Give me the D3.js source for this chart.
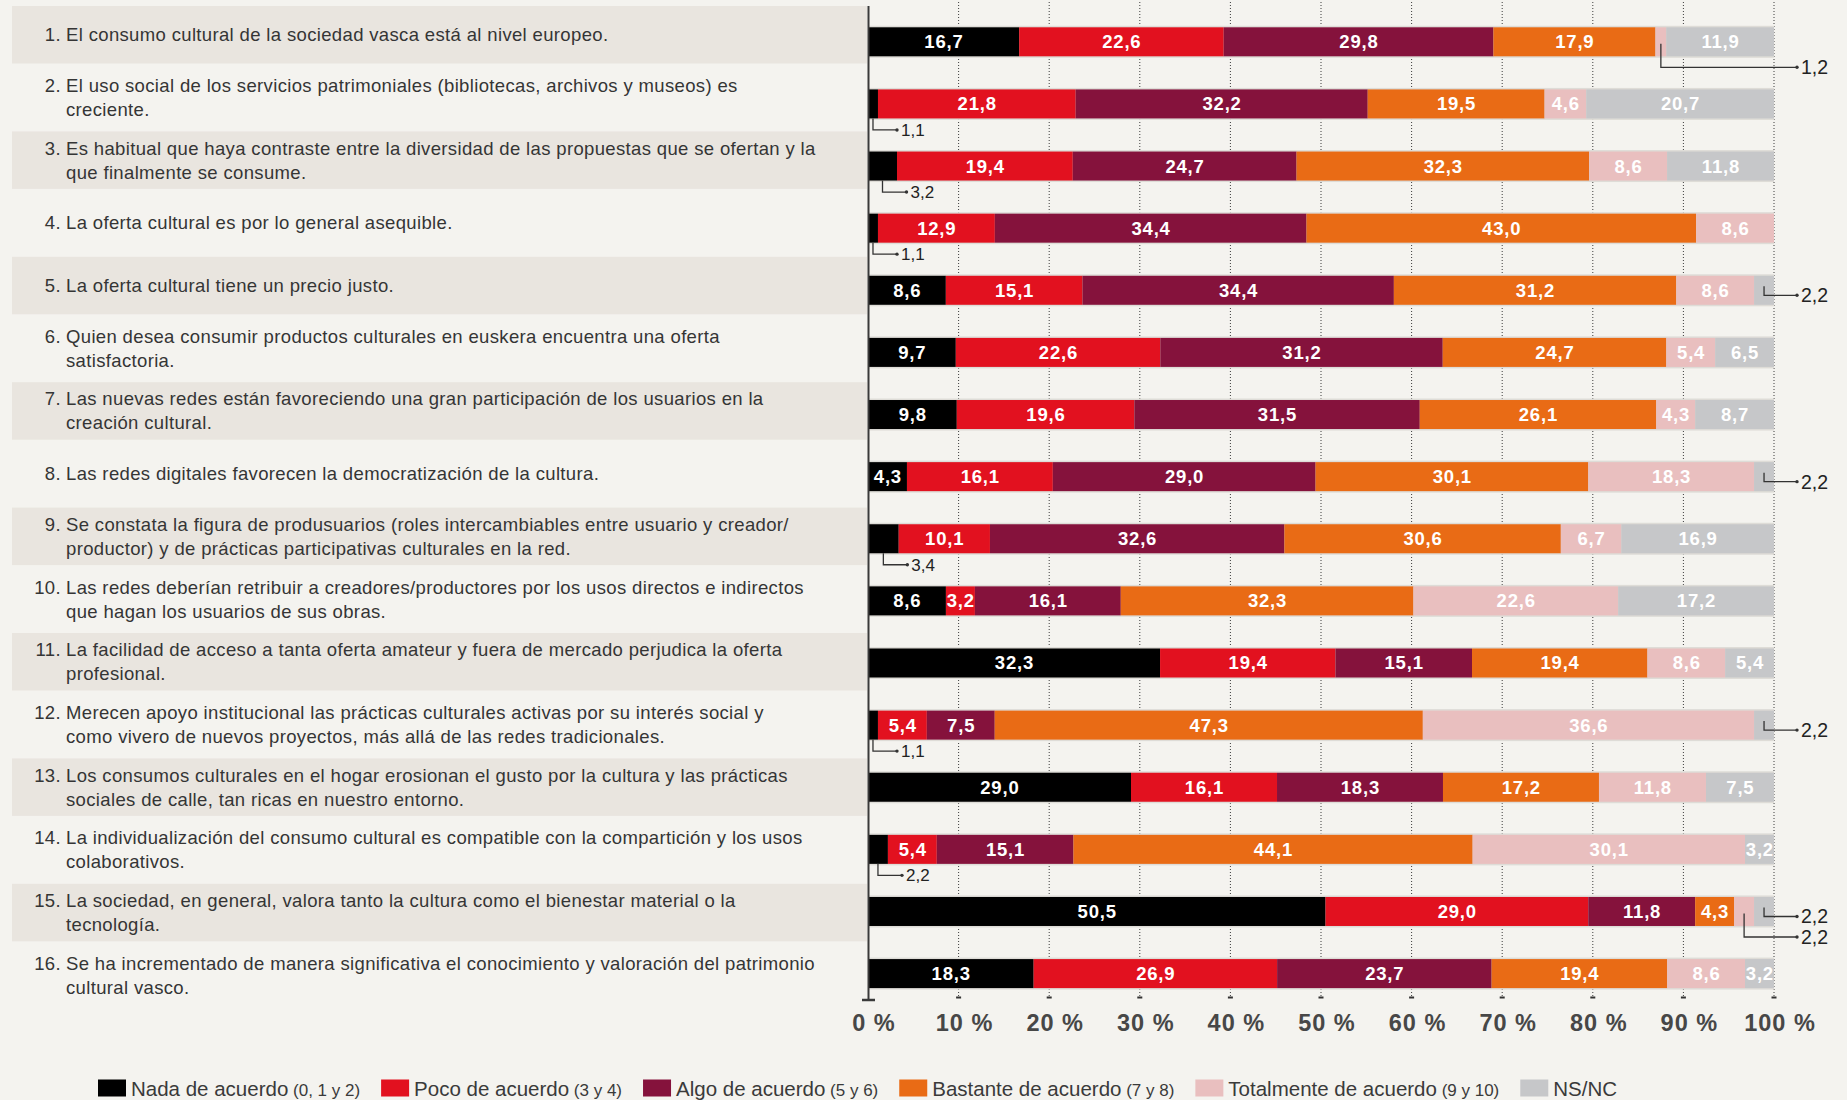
<!DOCTYPE html>
<html lang="es">
<head>
<meta charset="utf-8">
<title>Consumo cultural</title>
<script src="https://cdn.jsdelivr.net/npm/d3@7"></script>
<style>
  html, body { margin: 0; padding: 0; background: #f4f3ef; }
  svg { display: block; font-family: "Liberation Sans", Arial, Helvetica, sans-serif; }
</style>
</head>
<body>
<div id="chart"></div>
<script>
// ---- data -----------------------------------------------------------------
var keys = ['nada', 'poco', 'algo', 'bastante', 'totalmente', 'nsnc'];
var categories = ['Nada de acuerdo', 'Poco de acuerdo', 'Algo de acuerdo', 'Bastante de acuerdo', 'Totalmente de acuerdo', 'NS/NC'];
var categoryNotes = ['(0, 1 y 2)', '(3 y 4)', '(5 y 6)', '(7 y 8)', '(9 y 10)', ''];
var colors = ['#000000', '#e2111f', '#85123c', '#e96b15', '#e9bfbf', '#c6c7c9'];

var questions = [
    ['El consumo cultural de la sociedad vasca está al nivel europeo.'],
    ['El uso social de los servicios patrimoniales (bibliotecas, archivos y museos) es', 'creciente.'],
    ['Es habitual que haya contraste entre la diversidad de las propuestas que se ofertan y la', 'que finalmente se consume.'],
    ['La oferta cultural es por lo general asequible.'],
    ['La oferta cultural tiene un precio justo.'],
    ['Quien desea consumir productos culturales en euskera encuentra una oferta', 'satisfactoria.'],
    ['Las nuevas redes están favoreciendo una gran participación de los usuarios en la', 'creación cultural.'],
    ['Las redes digitales favorecen la democratización de la cultura.'],
    ['Se constata la figura de produsuarios (roles intercambiables entre usuario y creador/', 'productor) y de prácticas participativas culturales en la red.'],
    ['Las redes deberían retribuir a creadores/productores por los usos directos e indirectos', 'que hagan los usuarios de sus obras.'],
    ['La facilidad de acceso a tanta oferta amateur y fuera de mercado perjudica la oferta', 'profesional.'],
    ['Merecen apoyo institucional las prácticas culturales activas por su interés social y', 'como vivero de nuevos proyectos, más allá de las redes tradicionales.'],
    ['Los consumos culturales en el hogar erosionan el gusto por la cultura y las prácticas', 'sociales de calle, tan ricas en nuestro entorno.'],
    ['La individualización del consumo cultural es compatible con la compartición y los usos', 'colaborativos.'],
    ['La sociedad, en general, valora tanto la cultura como el bienestar material o la', 'tecnología.'],
    ['Se ha incrementado de manera significativa el conocimiento y valoración del patrimonio', 'cultural vasco.']
];

var nada       = [16.7,  1.1,  3.2,  1.1,  8.6,  9.7,  9.8,  4.3,  3.4,  8.6, 32.3,  1.1, 29.0,  2.2, 50.5, 18.3];
var poco       = [22.6, 21.8, 19.4, 12.9, 15.1, 22.6, 19.6, 16.1, 10.1,  3.2, 19.4,  5.4, 16.1,  5.4, 29.0, 26.9];
var algo       = [29.8, 32.2, 24.7, 34.4, 34.4, 31.2, 31.5, 29.0, 32.6, 16.1, 15.1,  7.5, 18.3, 15.1, 11.8, 23.7];
var bastante   = [17.9, 19.5, 32.3, 43.0, 31.2, 24.7, 26.1, 30.1, 30.6, 32.3, 19.4, 47.3, 17.2, 44.1,  4.3, 19.4];
var totalmente = [ 1.2,  4.6,  8.6,  8.6,  8.6,  5.4,  4.3, 18.3,  6.7, 22.6,  8.6, 36.6, 11.8, 30.1,  2.2,  8.6];
var nsnc       = [11.9, 20.7, 11.8,  0.0,  2.2,  6.5,  8.7,  2.2, 16.9, 17.2,  5.4,  2.2,  7.5,  3.2,  2.2,  3.2];

// small segments whose value sits outside the bar, with a leader line
var callouts = [
    { q: 1,  key: 'totalmente', kind: 'rightBelow' },
    { q: 2,  key: 'nada',       kind: 'below' },
    { q: 3,  key: 'nada',       kind: 'below' },
    { q: 4,  key: 'nada',       kind: 'below' },
    { q: 5,  key: 'nsnc',       kind: 'right' },
    { q: 8,  key: 'nsnc',       kind: 'right' },
    { q: 9,  key: 'nada',       kind: 'below' },
    { q: 12, key: 'nada',       kind: 'below' },
    { q: 12, key: 'nsnc',       kind: 'right' },
    { q: 14, key: 'nada',       kind: 'below' },
    { q: 15, key: 'nsnc',       kind: 'right' },
    { q: 15, key: 'totalmente', kind: 'rightBelow' }
];

var xTicks = [0, 10, 20, 30, 40, 50, 60, 70, 80, 90, 100];

// ---- chart ----------------------------------------------------------------
(function () {
    'use strict';

    var width = 1847, height = 1100;
    var series = { nada: nada, poco: poco, algo: algo, bastante: bastante, totalmente: totalmente, nsnc: nsnc };

    var rows = questions.map(function (lines, i) {
        var r = { id: i + 1, lines: lines };
        keys.forEach(function (k) { r[k] = series[k][i]; });
        return r;
    });
    var ids = rows.map(function (r) { return r.id; });

    var es = d3.formatLocale({ decimal: ',', thousands: '.', grouping: [3], currency: ['', ' €'] });
    var fmt = es.format('.1f');

    var x = d3.scaleLinear().domain([0, 1]).range([868, 1774]);
    var yBand = d3.scaleBand().domain(ids).range([6, 1004]).paddingInner(0.083);
    var yBar = d3.scaleBand().domain(ids).range([27.3, 988.1]).paddingInner(0.533);
    var color = d3.scaleOrdinal().domain(keys).range(colors);

    var stacked = d3.stack().keys(keys).offset(d3.stackOffsetExpand)(rows);

    var svg = d3.select('#chart').append('svg')
        .attr('width', width)
        .attr('height', height)
        .attr('viewBox', [0, 0, width, height]);

    svg.append('rect').attr('width', width).attr('height', height).attr('fill', '#f4f3ef');

    // label bands on odd rows
    svg.append('g').selectAll('rect')
        .data(rows.filter(function (r) { return r.id % 2 === 1; }))
        .join('rect')
        .attr('x', 12)
        .attr('width', 855)
        .attr('y', function (r) { return yBand(r.id); })
        .attr('height', yBand.bandwidth())
        .attr('fill', '#e9e5df');

    // question labels
    var lab = svg.append('g')
        .attr('fill', '#353535')
        .attr('font-size', 18.5)
        .attr('letter-spacing', 0.35)
        .selectAll('g').data(rows).join('g')
        .attr('transform', function (r) {
            var c = yBand(r.id) + yBand.bandwidth() / 2;
            var base = r.lines.length === 1 ? c + 6.5 : c - 5.5;
            return 'translate(0,' + base + ')';
        });
    lab.append('text')
        .attr('x', 61)
        .attr('text-anchor', 'end')
        .text(function (r) { return r.id + '.'; });
    lab.append('text')
        .attr('x', 66)
        .selectAll('tspan').data(function (r) { return r.lines; }).join('tspan')
        .attr('x', 66)
        .attr('dy', function (d, i) { return i === 0 ? 0 : 24; })
        .text(function (d) { return d; });

    // dotted grid
    var grid = svg.append('g');
    grid.selectAll('line').data(xTicks.slice(1)).join('line')
        .attr('x1', function (t) { return x(t / 100); })
        .attr('x2', function (t) { return x(t / 100); })
        .attr('y1', 2).attr('y2', 997)
        .attr('stroke', '#3c3c3c')
        .attr('stroke-width', 1)
        .attr('stroke-dasharray', '1,2');
    grid.selectAll('rect').data(xTicks.slice(1)).join('rect')
        .attr('x', function (t) { return x(t / 100) - 2.5; })
        .attr('y', 996.5).attr('width', 5).attr('height', 2)
        .attr('fill', '#333');

    // bar shadows
    svg.append('g').selectAll('rect').data(rows).join('rect')
        .attr('x', x(0))
        .attr('width', x(1) - x(0))
        .attr('y', function (r) { return yBar(r.id) - 1.5; })
        .attr('height', yBar.bandwidth() + 3)
        .attr('fill', '#dedcd7');

    // stacked segments
    var layer = svg.append('g').selectAll('g').data(stacked).join('g')
        .attr('fill', function (s) { return color(s.key); });
    layer.selectAll('rect').data(function (s) { return s; }).join('rect')
        .attr('x', function (d) { return x(d[0]); })
        .attr('width', function (d) { return Math.max(0, x(d[1]) - x(d[0])); })
        .attr('y', function (d) { return yBar(d.data.id); })
        .attr('height', yBar.bandwidth());

    // value labels inside bars
    var outside = {};
    callouts.forEach(function (c) { outside[c.q + '-' + c.key] = true; });
    var vals = svg.append('g')
        .attr('fill', '#fff')
        .attr('font-size', 18.5)
        .attr('font-weight', 'bold')
        .attr('letter-spacing', 0.8)
        .attr('text-anchor', 'middle');
    stacked.forEach(function (s) {
        vals.selectAll(null)
            .data(s.filter(function (d) {
                return d.data[s.key] > 0 && !outside[d.data.id + '-' + s.key];
            }))
            .join('text')
            .attr('x', function (d) { return (x(d[0]) + x(d[1])) / 2 + 0.4; })
            .attr('y', function (d) { return yBar(d.data.id) + yBar.bandwidth() / 2 + 6.5; })
            .text(function (d) { return fmt(d.data[s.key]); });
    });

    // leader lines for small values
    var byKey = {};
    stacked.forEach(function (s) { byKey[s.key] = s; });
    var lead = svg.append('g');
    callouts.forEach(function (c) {
        var d = byKey[c.key][c.q - 1];
        var mx = (x(d[0]) + x(d[1])) / 2;
        var top = yBar(c.q), bw = yBar.bandwidth();
        var mid = top + bw / 2, bot = top + bw;
        var y1, y2, x2, fs;
        if (c.kind === 'below') {
            y1 = bot; y2 = bot + 11.5; x2 = mx + 24; fs = 17;
        } else if (c.kind === 'right') {
            y1 = mid - 4; y2 = mid + 5; x2 = 1797; fs = 19.5;
        } else {
            y1 = mid + 2; y2 = bot + 11; x2 = 1797; fs = 19.5;
        }
        lead.append('path')
            .attr('d', 'M' + mx + ',' + y1 + 'V' + y2 + 'H' + x2)
            .attr('fill', 'none')
            .attr('stroke', '#333')
            .attr('stroke-width', 1.3);
        lead.append('circle')
            .attr('cx', x2).attr('cy', y2).attr('r', 1.7)
            .attr('fill', '#333');
        lead.append('text')
            .attr('x', x2 + 4)
            .attr('y', y2 + fs * 0.36)
            .attr('font-size', fs)
            .attr('fill', '#222')
            .text(fmt(d.data[c.key]));
    });

    // vertical axis line with foot
    svg.append('line')
        .attr('x1', 868.5).attr('x2', 868.5)
        .attr('y1', 6).attr('y2', 1000)
        .attr('stroke', '#3a3a3a').attr('stroke-width', 2);
    svg.append('line')
        .attr('x1', 862).attr('x2', 875)
        .attr('y1', 1000).attr('y2', 1000)
        .attr('stroke', '#3a3a3a').attr('stroke-width', 2.5);

    // tick labels
    svg.append('g')
        .attr('font-size', 23.5)
        .attr('font-weight', 'bold')
        .attr('letter-spacing', 1)
        .attr('fill', '#474747')
        .attr('text-anchor', 'middle')
        .selectAll('text').data(xTicks).join('text')
        .attr('x', function (t) { return x(t / 100) + 6; })
        .attr('y', 1030.5)
        .text(function (t) { return t + ' %'; });

    // legend
    var legend = svg.append('g').attr('fill', '#3a3a3a');
    var lx = 98;
    categories.forEach(function (name, i) {
        var item = legend.append('g').attr('transform', 'translate(' + lx + ',0)');
        item.append('rect')
            .attr('x', 0).attr('y', 1079.5)
            .attr('width', 28).attr('height', 17)
            .attr('fill', colors[i]);
        var t = item.append('text').attr('x', 33).attr('y', 1096).attr('font-size', 20.5);
        t.append('tspan').text(name);
        if (categoryNotes[i]) {
            t.append('tspan').attr('font-size', 17).text(' ' + categoryNotes[i]);
        }
        lx += 33 + t.node().getComputedTextLength() + 21;
    });
})();
</script>
</body>
</html>
